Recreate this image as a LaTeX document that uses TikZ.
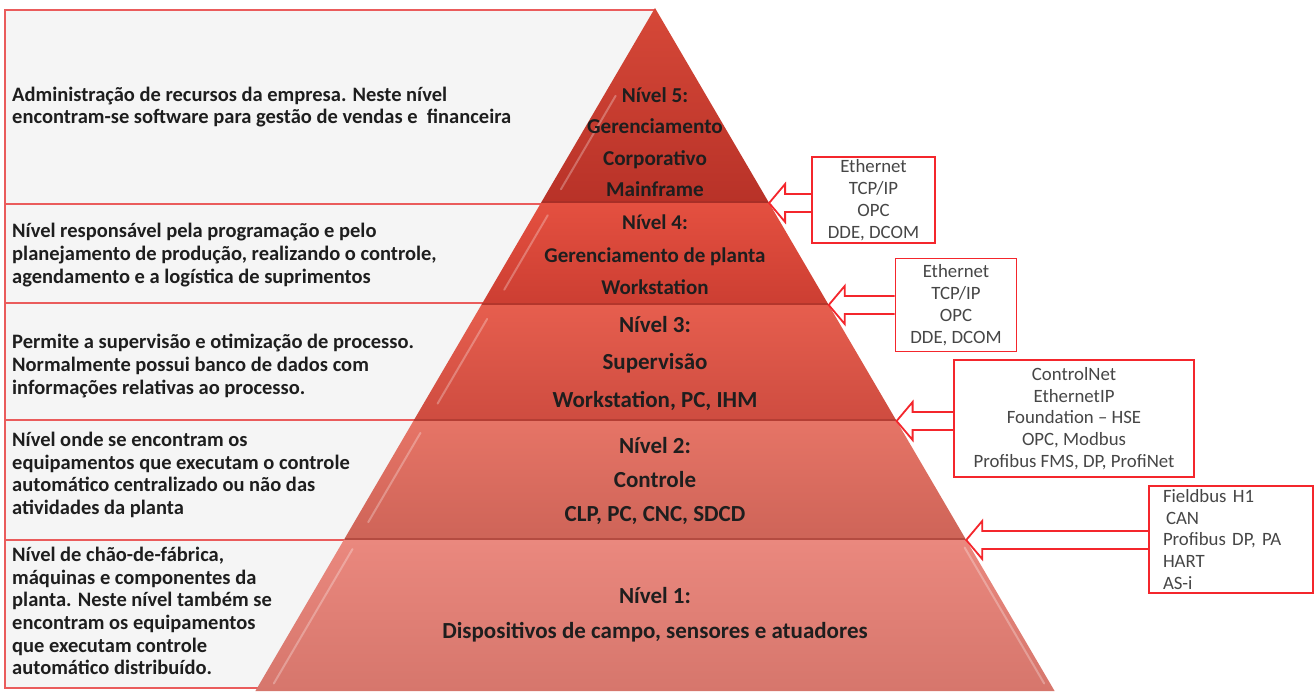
\documentclass[tikz,border=0pt]{standalone}
\usepackage{fontspec}
\setmainfont{Carlito}
\usetikzlibrary{calc}

\definecolor{boxred}{RGB}{234,92,92}
\definecolor{tagred}{RGB}{244,38,44}
\definecolor{paper}{RGB}{245,245,245}
\definecolor{textdark}{RGB}{30,30,30}
\definecolor{taggray}{RGB}{70,70,70}
\definecolor{fiveT}{RGB}{214,72,56}\definecolor{fiveB}{RGB}{184,50,40}
\definecolor{fourT}{RGB}{228,80,64}\definecolor{fourB}{RGB}{204,62,50}
\definecolor{threeT}{RGB}{230,94,78}\definecolor{threeB}{RGB}{206,76,64}
\definecolor{twoT}{RGB}{230,116,102}\definecolor{twoB}{RGB}{206,100,88}
\definecolor{oneT}{RGB}{234,136,126}\definecolor{oneB}{RGB}{214,118,108}
\definecolor{seam}{RGB}{150,45,38}

\tikzset{
  infobox/.style={draw=boxred, line width=1.3pt, fill=paper},
  infotext/.style={anchor=west, align=left, inner sep=0pt, text=textdark,
    font=\fontsize{20.5}{22.6}\selectfont\bfseries},
  leveltext/.style 2 args={align=center, inner sep=0pt, text=textdark,
    font=\fontsize{#1}{#2}\selectfont\bfseries},
  tagbox/.style={draw=tagred, line width=1.8pt, fill=white, inner sep=0pt,
    text=taggray, font=\fontsize{18.8}{21.8}\selectfont},
  tagarrow/.style={draw=tagred, line width=1.8pt, line join=miter},
  highlight/.style={draw=white, line width=2pt, opacity=0.28, line cap=round},
  seamline/.style={draw=seam, line width=2.5pt, opacity=0.45}
}

% outlined block arrow from a protocol box (#2) to a pyramid corner (#1)
\newcommand\protoarrow[2]{%
  \path ($(#1)+(0,-9)$) coordinate (upshaft) ($(#1)+(0,9)$) coordinate (loshaft);
  \draw[tagarrow] (#2.west |- upshaft) -- ($(upshaft)+(16,0)$)
    -- ($(#1)+(16,-19)$) -- (#1) -- ($(#1)+(16,19)$)
    -- ($(loshaft)+(16,0)$) -- (#2.west |- loshaft);
}

\begin{document}
\begin{tikzpicture}[x=1pt,y=-1pt]
\useasboundingbox (0,0) rectangle (1314,691);
\fill[white] (0,0) rectangle (1314,691);

% description panels on the left
\draw[infobox] (5,10) rectangle (655,204);
\draw[infobox] (5,204) rectangle (655,303);
\draw[infobox] (5,303) rectangle (655,420);
\draw[infobox] (5,420) rectangle (655,540);
\draw[infobox] (5,540) rectangle (655,688);

\node[infotext] (d5) at (12,107) {Administração de recursos da empresa. Neste nível\\encontram-se software para gestão de vendas e~ financeira};
\node[infotext] (d4) at (12,255) {Nível responsável pela programação e pelo\\planejamento de produção, realizando o controle,\\agendamento e a logística de suprimentos};
\node[infotext] (d3) at (12,366) {Permite a supervisão e otimização de processo.\\Normalmente possui banco de dados com\\informações relativas ao processo.};
\node[infotext] (d2) at (12,475) {Nível onde se encontram os\\equipamentos que executam o controle\\automático centralizado ou não das\\atividades da planta};
\node[infotext] (d1) at (12,611) {Nível de chão-de-fábrica,\\máquinas e componentes da\\planta. Neste nível também se\\encontram os equipamentos\\que executam controle\\automático distribuído.};

% pyramid corners
\coordinate (apex) at (655,8);
\coordinate (l5) at (540.9,203);  \coordinate (r5) at (769.1,203);
\coordinate (l4) at (481.3,305);  \coordinate (r4) at (828.7,305);
\coordinate (l3) at (413.4,421);  \coordinate (r3) at (896.6,421);
\coordinate (l2) at (343.8,540);  \coordinate (r2) at (966.2,540);
\coordinate (l1) at (255.4,691);  \coordinate (r1) at (1054.6,691);

% pyramid bands
\shade[top color=fiveT, bottom color=fiveB] (apex) -- (r5) -- (l5) -- cycle;
\shade[top color=fourT, bottom color=fourB] (l5) -- (r5) -- (r4) -- (l4) -- cycle;
\shade[top color=threeT, bottom color=threeB] (l4) -- (r4) -- (r3) -- (l3) -- cycle;
\shade[top color=twoT, bottom color=twoB] (l3) -- (r3) -- (r2) -- (l2) -- cycle;
\shade[top color=oneT, bottom color=oneB] (l2) -- (r2) -- (r1) -- (l1) -- cycle;

% bevel seams and highlights
\draw[seamline] ($(l5)+(1,-1)$) -- ($(r5)+(-1,-1)$);
\draw[seamline] ($(l4)+(1,-1)$) -- ($(r4)+(-1,-1)$);
\draw[seamline] ($(l3)+(1,-1)$) -- ($(r3)+(-1,-1)$);
\draw[seamline] ($(l2)+(1,-1)$) -- ($(r2)+(-1,-1)$);
\draw[highlight] ($(apex)!0.45!(l5)+(12,0)$) -- ($(apex)!0.93!(l5)+(12,0)$);
\draw[highlight] ($(l5)!0.12!(l4)+(14,0)$) -- ($(l5)!0.85!(l4)+(14,0)$);
\draw[highlight] ($(l4)!0.12!(l3)+(14,0)$) -- ($(l4)!0.85!(l3)+(14,0)$);
\draw[highlight] ($(l3)!0.10!(l2)+(14,0)$) -- ($(l3)!0.85!(l2)+(14,0)$);
\draw[highlight] ($(l2)!0.06!(l1)+(14,0)$) -- ($(l2)!0.95!(l1)+(14,0)$);
\draw[highlight] ($(r2)!0.05!(r1)+(-6,0)$) -- ($(r2)!0.95!(r1)+(-6,0)$);

% level captions
\node[leveltext={21.2}{31.5}] (n5) at (655,142) {Nível 5:\\Gerenciamento\\Corporativo\\Mainframe};
\node[leveltext={21}{32.5}] (n4) at (655,255) {Nível 4:\\Gerenciamento de planta\\Workstation};
\node[leveltext={23}{37.5}] (n3) at (655,363) {Nível 3:\\Supervisão\\Workstation, PC, IHM};
\node[leveltext={23}{34}] (n2) at (655,481) {Nível 2:\\Controle\\CLP, PC, CNC, SDCD};
\node[leveltext={23}{35}] (n1) at (655,615) {Nível 1:\\Dispositivos de campo, sensores e atuadores};

% protocol boxes
\node[tagbox, align=center, minimum width=123, minimum height=86] (pA) at (873.5,200) {Ethernet\\TCP/IP\\OPC\\DDE, DCOM};
\node[tagbox, align=center, minimum width=121, minimum height=93] (pB) at (956,305) {Ethernet\\TCP/IP\\OPC\\DDE, DCOM};
\node[tagbox, align=center, minimum width=240, minimum height=117] (pC) at (1074,418.5) {ControlNet\\EthernetIP\\Foundation -- HSE\\OPC, Modbus\\Profibus FMS, DP, ProfiNet};
\node[tagbox, align=left, text width=136, minimum width=164, minimum height=107] (pD) at (1231,539.5) {Fieldbus H1\\\hspace{3pt}CAN\\Profibus DP, PA\\HART\\AS-i};

% arrows into the pyramid corners
\protoarrow{r5}{pA}
\protoarrow{r4}{pB}
\protoarrow{r3}{pC}
\protoarrow{r2}{pD}
\end{tikzpicture}
\end{document}
